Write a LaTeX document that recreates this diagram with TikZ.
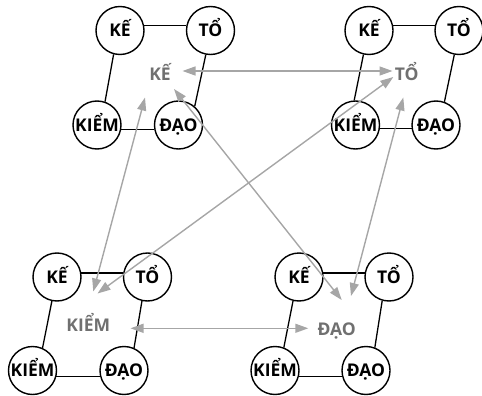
\documentclass[tikz,border=0pt]{standalone}
\usepackage{fontspec}
\setmainfont{Open Sans}
\usetikzlibrary{arrows.meta}
\definecolor{arrgray}{HTML}{A6A6A6}
\definecolor{labgray}{HTML}{707070}
\begin{document}
\begin{tikzpicture}[x=1pt,y=-1pt,
  circ/.style={circle,draw,line width=1.4pt,minimum size=48pt,inner sep=0pt,
    font=\fontsize{17.5}{19}\selectfont\bfseries,text height=12.5pt,text depth=0pt},
  lab/.style={inner sep=0pt,text=labgray,
    font=\fontsize{17.5}{19}\selectfont\bfseries,text height=12.5pt,text depth=0pt},
  side/.style={line width=1.3pt},
  arr/.style={draw=arrgray,line width=1.4pt,
    {Triangle[length=13pt,width=9pt]}-{Triangle[length=13pt,width=9pt]}}
]
\useasboundingbox (0,0) rectangle (482,396);

% top-left group
\node[circ] (aKE) at (120,30.5) {KẾ};
\node[circ] (aTO) at (210.5,30.5) {TỔ};
\node[circ] (aKI) at (97,125) {KIỂM};
\node[circ] (aDA) at (178.5,125) {ĐẠO};
\draw[side] (aKE.11) -- (aTO.169);
\draw[side] (aKI.-10) -- (aDA.190);
\draw[side] (aKE.-105) -- (aKI.71);
\draw[side] (aTO.-101) -- (aDA.49);

% top-right group
\node[circ] (bKE) at (369,30.5) {KẾ};
\node[circ] (bTO) at (459,30.5) {TỔ};
\node[circ] (bKI) at (355.5,125) {KIỂM};
\node[circ] (bDA) at (436,125) {ĐẠO};
\draw[side] (bKE.11) -- (bTO.169);
\draw[side] (bKI.-8) -- (bDA.188);
\draw[side] (bKE.-103) -- (bKI.93);
\draw[side] (bTO.-101) -- (bDA.70);

% bottom-left group
\node[circ] (cKE) at (57,277) {KẾ};
\node[circ] (cTO) at (147.5,277) {TỔ};
\node[circ] (cKI) at (32.5,370.5) {KIỂM};
\node[circ] (cDA) at (124,370.5) {ĐẠO};
\draw[side] (cKE.9) -- (cTO.171);
\draw[side] (cKI.-14) -- (cDA.194);
\draw[side] (cKE.-102) -- (cKI.66);
\draw[side] (cTO.-103) -- (cDA.66);

% bottom-right group
\node[circ] (dKE) at (299,277) {KẾ};
\node[circ] (dTO) at (389,277) {TỔ};
\node[circ] (dKI) at (275,370.5) {KIỂM};
\node[circ] (dDA) at (366,370.5) {ĐẠO};
\draw[side] (dKE.9) -- (dTO.171);
\draw[side] (dKI.-14) -- (dDA.194);
\draw[side] (dKE.-104) -- (dKI.69);
\draw[side] (dTO.-106) -- (dDA.69);

% central labels
\node[lab] (lKE) at (160,74) {KẾ};
\node[lab] (lTO) at (406.7,74) {TỔ};
\node[lab] (lKI) at (88.3,325) {KIỂM};
\node[lab] (lDA) at (336.7,329.2) {ĐẠO};

% arrow ports
\coordinate (pKE1) at (182.5,71);
\coordinate (pTO1) at (392.5,71);
\coordinate (pKI2) at (130.5,328.3);
\coordinate (pDA2) at (308.3,328.3);
\coordinate (pKE3) at (145,97.5);
\coordinate (pKI3) at (93.3,291.5);
\coordinate (pTO4) at (393.3,77);
\coordinate (pKI4) at (97.5,293.5);
\coordinate (pKE5) at (174,89);
\coordinate (pDA5) at (341.7,300);
\coordinate (pTO6) at (403.3,97.5);
\coordinate (pDA6) at (351,296);

\draw[arr] (pKE1) -- (pTO1);
\draw[arr] (pKI2) -- (pDA2);
\draw[arr] (pKE3) -- (pKI3);
\draw[arr] (pTO4) -- (pKI4);
\draw[arr] (pKE5) -- (pDA5);
\draw[arr] (pTO6) -- (pDA6);
\end{tikzpicture}
\end{document}
